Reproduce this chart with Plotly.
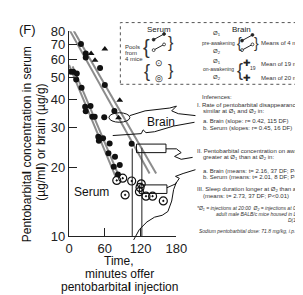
import plotly.graph_objects as go
import math

# ---------------- data ----------------
x_ticks = [0, 60, 120, 180]
y_ticks = [10, 20, 30, 40, 50, 60, 70, 80]

# serum, pre-awakening (filled dots)
serum_pre_t = [3, 7, 13, 12, 21, 27, 36, 28, 39, 43, 59, 49, 50, 57, 68, 66, 77, 75, 85, 82]
serum_pre_v = [53, 53, 52, 49, 45, 37.2, 37.4, 35.5, 33.6, 33.6, 33.4, 27.4, 26.3, 27.0, 25.6, 23.2, 22.4, 20.2, 20.6, 18.7]

# brain, pre-awakening (filled dots)
brain_pre_t = [20, 28, 28, 52, 60, 76, 105]
brain_pre_v = [70.2, 63.7, 61.2, 55.1, 46.3, 35.6, 25.5]

# brain, pre-awakening group 2 (triangles)
brain_tri_t = [37, 60, 43.5, 85, 83]
brain_tri_v = [63.7, 66.7, 59.6, 39.7, 33.2]

# serum, on-awakening (circled dots)
serum_awake_t = [80, 90, 105, 94, 118, 119, 121, 129, 140, 158]
serum_awake_v = [17.6, 18.0, 17.5, 15.2, 15.7, 16.4, 17.0, 15.0, 15.0, 14.3]

# regression line end points
brain_line1_t = [0, 135]
brain_line1_v = [81.7, 18.9]
brain_line2_t = [8, 146]
brain_line2_v = [80.2, 18.9]
serum_line1_t = [0, 78]
serum_line1_v = [56.8, 18.3]
serum_line2_t = [6, 84]
serum_line2_v = [56.0, 18.3]

# awakening marker verticals
awake_t = [106, 122]
awake_top_v = [24.3, 24.5]

FONT = "Liberation Sans, Arial, Helvetica, sans-serif"
W, H = 303, 295


def X(px):
    return px / W


def Y(py):
    return 1 - py / H


def path(pts):
    s = ""
    for i, (a, b) in enumerate(pts):
        s += ("M" if i == 0 else "L") + f"{X(a):.4f},{Y(b):.4f} "
    return s.strip()


fig = go.Figure()

GREY = "#8c8c8c"
for tt, vv in [(brain_line1_t, brain_line1_v), (brain_line2_t, brain_line2_v),
               (serum_line1_t, serum_line1_v), (serum_line2_t, serum_line2_v)]:
    fig.add_trace(go.Scatter(x=tt, y=vv, mode="lines",
                             line=dict(color=GREY, width=2), hoverinfo="skip",
                             showlegend=False, cliponaxis=False))

for t, v in zip(awake_t, awake_top_v):
    fig.add_trace(go.Scatter(x=[t, t], y=[10, v], mode="lines",
                             line=dict(color="#444", width=1.2), showlegend=False))

fig.add_trace(go.Scatter(x=serum_pre_t, y=serum_pre_v, mode="markers",
                         marker=dict(symbol="circle", size=6, color="#111"),
                         showlegend=False))
fig.add_trace(go.Scatter(x=brain_pre_t, y=brain_pre_v, mode="markers",
                         marker=dict(symbol="circle", size=6, color="#111"),
                         showlegend=False))
fig.add_trace(go.Scatter(x=brain_tri_t, y=brain_tri_v, mode="markers",
                         marker=dict(symbol="triangle-up", size=6, color="#111"),
                         showlegend=False))
fig.add_trace(go.Scatter(x=serum_awake_t, y=serum_awake_v, mode="markers",
                         marker=dict(symbol="circle-open-dot", size=8,
                                     color="#111", line=dict(width=1.2, color="#111")),
                         showlegend=False))

shapes = []
# ellipse around triangle
shapes.append(dict(type="circle", xref="paper", yref="paper",
                   x0=X(102), x1=X(124), y0=Y(113), y1=Y(103),
                   line=dict(color="#111", width=1)))
# rectangles
shapes.append(dict(type="rect", xref="paper", yref="paper",
                   x0=X(131), x1=X(162), y0=Y(145), y1=Y(136),
                   line=dict(color="#111", width=1)))
shapes.append(dict(type="rect", xref="paper", yref="paper",
                   x0=X(134), x1=X(163), y0=Y(188), y1=Y(179),
                   line=dict(color="#111", width=1)))
# connector lines
for pts in [
    [(124, 106), (140, 101), (166, 98), (173, 96), (168, 101), (175, 104), (193, 106)],
    [(106, 127), (136, 125), (138, 121), (141, 124), (150, 123), (170, 117), (192, 113)],
    [(162, 141), (173, 141), (178, 145), (171, 149), (178, 152), (190, 150)],
    [(163, 182), (172, 178), (176, 172), (172, 170), (180, 167), (193, 163)],
    [(128, 237), (134, 226), (142, 218), (150, 213), (158, 211), (164, 207),
     (168, 196), (170, 184), (173, 176)],
]:
    shapes.append(dict(type="path", xref="paper", yref="paper", path=path(pts),
                       line=dict(color="#111", width=1)))
# legend box
shapes.append(dict(type="rect", xref="paper", yref="paper",
                   x0=X(114), x1=X(310), y0=Y(73), y1=Y(8),
                   line=dict(color="#555", width=1, dash="dot")))
# legend pre-awakening pairs (segments + end symbols)
for (a, b, c, d, filled) in [(149, 26, 160, 20, True), (149, 37, 160, 31, False),
                             (242, 27, 253, 21, True), (242, 37, 253, 31, False)]:
    shapes.append(dict(type="path", xref="paper", yref="paper",
                       path=path([(a, b), (c, d)]), line=dict(color="#222", width=1)))
    for (px, py) in [(a, b), (c, d)]:
        shapes.append(dict(type="circle", xref="paper", yref="paper",
                           x0=X(px - 1.5), x1=X(px + 1.5), y0=Y(py + 1.5), y1=Y(py - 1.5),
                           line=dict(color="#222", width=0.8),
                           fillcolor="#222" if filled else "white"))

ann = []


def txt(px, py, s, size, anchor="center", color="#111", angle=0, italic=False):
    if italic:
        s = "<i>" + s + "</i>"
    ann.append(dict(x=X(px), y=Y(py), xref="paper", yref="paper", text=s,
                    showarrow=False, xanchor=anchor, yanchor="middle",
                    textangle=angle, font=dict(family=FONT, size=size, color=color)))


txt(16, 15, "(F)", 13)
txt(16, 136, "Pentobarbita<b>l</b> concentration in serum", 12, angle=-90)
txt(31, 134, "(µg/m<b>l</b>) or brain (µg/g)", 12, angle=-90)
txt(113, 259, "Time,", 12)
txt(113, 273, "minutes offer", 12)
txt(113, 287, "pentobarbita<b>l</b> injection", 12)
txt(157, 113, "Brain", 12)
txt(84, 186, "Serum", 12)

# legend texts
C = "#333"
txt(155, 15, "Serum", 8, color="#222")
txt(241, 15, "Brain", 8, color="#222")
txt(117, 34, "Pools", 6, anchor="left", color=C)
txt(117, 40, "from", 6, anchor="left", color=C)
txt(117, 46, "4 mice", 6, anchor="left", color=C)
txt(142, 34, "{", 20, color=C)
txt(142, 59, "{", 18, color=C)
txt(167, 29, "}", 16, color=C)
txt(167, 58, "}", 16, color=C)
txt(155, 51, "⊙", 9, color="#222")
txt(155, 66, "◎", 9, color="#222")
txt(216, 20, "Ø<sub>1</sub>", 6, color=C)
txt(217, 29, "pre-awakening", 5, color=C)
txt(216, 38, "Ø<sub>2</sub>", 6, color=C)
txt(216, 49, "Ø<sub>1</sub>", 6, color=C)
txt(217, 57, "on-awakening", 5, color=C)
txt(216, 66, "Ø<sub>2</sub>", 6, color=C)
txt(239, 29, "{", 14, color=C)
txt(257, 29, "}", 14, color=C)
txt(260, 30, "Means of 4 mice", 6, anchor="left", color=C)
txt(240, 58, "{", 18, color=C)
txt(247, 51, "✚", 9, color="#222")
txt(254, 56, "19", 5, color=C)
txt(247, 66, "✚", 9, color="#222")
txt(260, 52, "Mean of 19 mice", 6, anchor="left", color=C)
txt(260, 66, "Mean of 20 mice", 6, anchor="left", color=C)

# inferences
IS = 6
txt(198, 86, "Inferences:", IS, anchor="left", color=C)
txt(193, 95, "I. Rate of pentobarbital disappearance", IS, anchor="left", color=C)
txt(199, 102, "similar at Ø<sub>1</sub> and Ø<sub>2</sub> in:", IS, anchor="left", color=C)
txt(199, 112, "a. Brain (slope: r= 0.42, 115 DF)", IS, anchor="left", color=C)
txt(199, 119, "b. Serum (slopes: r= 0.45, 16 DF)", IS, anchor="left", color=C)
txt(193, 143, "II. Pentobarbital concentration on awakening", IS, anchor="left", color=C)
txt(199, 150, "greater at Ø<sub>1</sub> than at Ø<sub>2</sub> in:", IS, anchor="left", color=C)
txt(199, 164, "a. Brain (means: t= 2.16, 37 DF; P<0.05)", IS, anchor="left", color=C)
txt(199, 171, "b. Serum (means: t= 2.01, 8 DF; P<0.05)", IS, anchor="left", color=C)
txt(193, 184, "III. Sleep duration longer at Ø<sub>2</sub> than at Ø<sub>1</sub>", IS, anchor="left", color=C)
txt(199, 191, "(means: t= 2.73, 37 DF; P<0.01)", IS, anchor="left", color=C)
txt(193, 204, "*Ø<sub>1</sub> = injections at 20:00  Ø<sub>2</sub> = injections at 08:00;", 5, anchor="left", color=C, italic=True)
txt(212, 210, "adult male BALB/c mice housed in L(08:00-", 5, anchor="left", color=C, italic=True)
txt(288, 216, "D(19:00)", 5, anchor="left", color=C, italic=True)
txt(195, 228, "Sodium pentobarbital dose: 71.8 mg/kg, i.p.", 5, anchor="left", color=C, italic=True)

fig.update_layout(
    width=W, height=H,
    margin=dict(l=0, r=0, t=0, b=0),
    paper_bgcolor="white", plot_bgcolor="white",
    showlegend=False,
    shapes=shapes, annotations=ann,
    xaxis=dict(domain=[X(60), X(173)], range=[0, 180], tickvals=x_ticks,
               ticks="inside", ticklen=8, tickwidth=1.3, tickcolor="#222",
               showline=True, linecolor="#222", linewidth=1.3,
               showgrid=False, zeroline=False, ticklabelstandoff=0,
               tickfont=dict(family=FONT, size=13, color="#222")),
    yaxis=dict(domain=[Y(233), Y(17)], type="log", range=[1, math.log10(80)],
               tickvals=y_ticks, ticktext=[str(v) for v in y_ticks],
               ticks="inside", ticklen=8, tickwidth=1.3, tickcolor="#222",
               showline=True, linecolor="#222", linewidth=1.3,
               showgrid=False, zeroline=False,
               tickfont=dict(family=FONT, size=13, color="#222")),
)

fig.write_html("out.html")
